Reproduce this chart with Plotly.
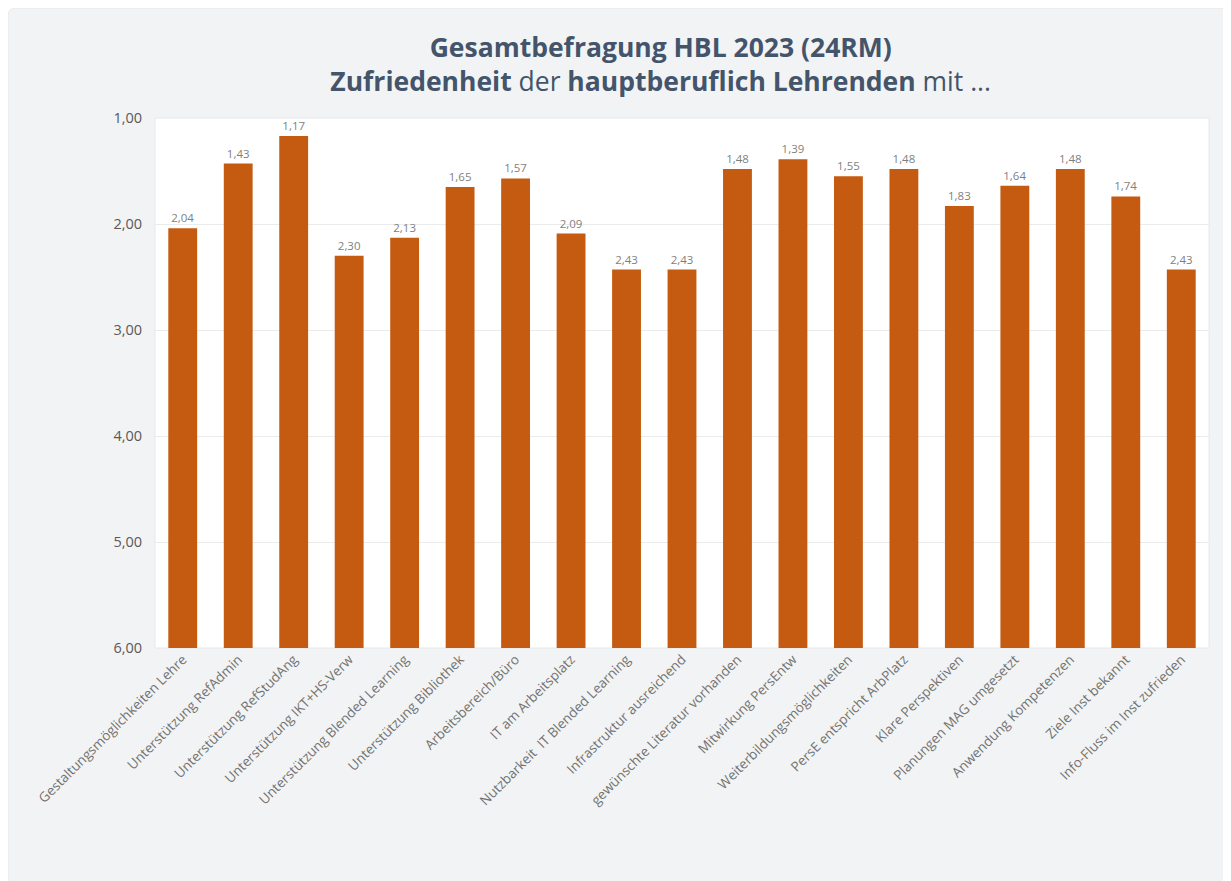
import plotly.graph_objects as go

categories = [
    "Gestaltungsmöglichkeiten Lehre",
    "Unterstützung RefAdmin",
    "Unterstützung RefStudAng",
    "Unterstützung IKT+HS-Verw",
    "Unterstützung Blended Learning",
    "Unterstützung Bibliothek",
    "Arbeitsbereich/Büro",
    "IT am Arbeitsplatz",
    "Nutzbarkeit  IT Blended Learning",
    "Infrastruktur ausreichend",
    "gewünschte Literatur vorhanden",
    "Mitwirkung PersEntw",
    "Weiterbildungsmöglichkeiten",
    "PersE entspricht ArbPlatz",
    "Klare Perspektiven",
    "Planungen MAG umgesetzt",
    "Anwendung Kompetenzen",
    "Ziele Inst bekannt",
    "Info-Fluss im Inst zufrieden",
]
values = [2.04, 1.43, 1.17, 2.30, 2.13, 1.65, 1.57, 2.09, 2.43, 2.43,
          1.48, 1.39, 1.55, 1.48, 1.83, 1.64, 1.48, 1.74, 2.43]
y_ticks = [1, 2, 3, 4, 5, 6]
worst = 6

W, H = 1220, 873
ML, MR, MT, MB = 147, 19, 110, 233

fig = go.Figure()

# bars grow from 6,00 (bottom) up to the value on a reversed axis
fig.add_trace(go.Bar(
    x=categories,
    y=[v - worst for v in values],
    base=worst,
    customdata=values,
    marker=dict(color="#c55a11", line=dict(width=0)),
    width=0.52,
    texttemplate="%{customdata:.2f}",
    textposition="outside",
    textfont=dict(family="Open Sans", size=11.5, color="#7f7f7f"),
    cliponaxis=False,
    hovertemplate="%{x}: %{customdata:.2f}<extra></extra>",
))

# rounded grey panel with a hole where the white plot area is
pw, ph = W - ML - MR, H - MT - MB
x0, x1 = -ML / pw, (W - ML) / pw
y1, y0 = (ph + MT) / ph, -(MB + 10) / ph
rx, ry = 8 / pw, 8 / ph
panel = (f"M {x0 + rx},{y1} L {x1 - rx},{y1} Q {x1},{y1} {x1},{y1 - ry} "
         f"L {x1},{y0 + ry} Q {x1},{y0} {x1 - rx},{y0} "
         f"L {x0 + rx},{y0} Q {x0},{y0} {x0},{y0 + ry} "
         f"L {x0},{y1 - ry} Q {x0},{y1} {x0 + rx},{y1} Z "
         "M 0,0 L 1,0 L 1,1 L 0,1 Z")
fig.add_shape(
    type="path", xref="paper", yref="paper", layer="below",
    path=panel, fillrule="evenodd",
    fillcolor="#f2f3f4", line=dict(color="#e6e8ea", width=1),
)

fig.update_layout(
    width=W, height=H,
    margin=dict(l=ML, r=MR, t=MT, b=MB),
    paper_bgcolor="white",
    plot_bgcolor="white",
    separators=",.",
    showlegend=False,
    title=dict(
        text=("<b>Gesamtbefragung HBL 2023 (24RM)</b><br>"
              "<b>Zufriedenheit</b> der <b>hauptberuflich Lehrenden</b> mit ..."),
        x=0.535, xanchor="center",
        y=0.944, yanchor="top",
        font=dict(family="Open Sans", size=26.5, color="#44546a"),
    ),
    font=dict(family="Open Sans", color="#595959"),
)

fig.update_yaxes(
    range=[worst, 1],
    tickvals=y_ticks,
    tickformat=".2f",
    tickfont=dict(size=14.5, color="#595959"),
    ticklabelstandoff=12,
    showgrid=True, gridcolor="#ebebeb", gridwidth=1,
    zeroline=False, showline=False,
    ticks="", ticklen=0,
)
fig.update_xaxes(
    tickangle=-45,
    tickfont=dict(size=13.5, color="#737373"),
    showgrid=False, showline=False, ticks="",
)

fig.write_html("out.html")
